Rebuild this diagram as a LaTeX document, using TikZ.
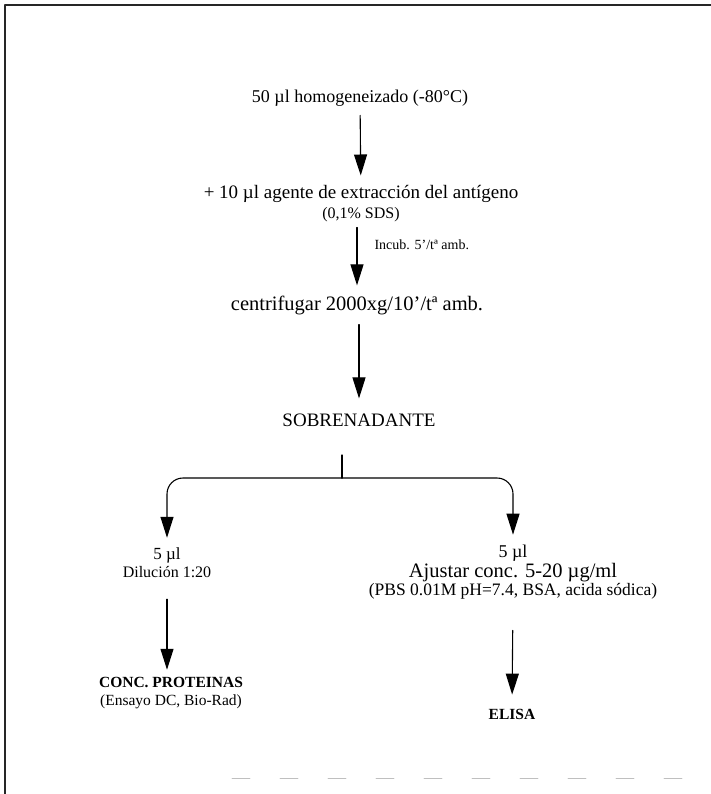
\documentclass[tikz,border=0pt]{standalone}
\usepackage{fontspec}
\setmainfont{Liberation Serif}
\usetikzlibrary{arrows.meta}
\begin{document}
\begin{tikzpicture}
% Flow chart: extraction of the antigen and split of the supernatant
\def\unitsz{1pt}
\providecommand{\flowLineColor}{black}
\providecommand{\flowFrameColor}{black!85}
\providecommand{\flowLineWidth}{1.1pt}
\providecommand{\flowFrameWidth}{1.6pt}
\newcommand{\tam}[1]{\fontsize{#1}{#1}\selectfont}
\tikzset{
  paso/.style={inner sep=0pt, align=center, font=\tam{19}},
  nota/.style={inner sep=0pt, align=center, font=\tam{14}},
  linea/.style={draw=\flowLineColor, line width=\flowLineWidth},
  flecha/.style={linea, -{Triangle[length=21pt,width=13pt]}}
}
\begin{scope}[x=\unitsz, y=-\unitsz, line cap=round, line join=round]
  \useasboundingbox (0,0) rectangle (711,794);
  % Page frame
  \draw[draw=\flowFrameColor, line width=\flowFrameWidth] (5,794) -- (5,5) -- (711,5);
  \draw[black!25, line width=0.8pt, dash pattern=on 18pt off 30pt] (232,778) -- (711,778);
  % Steps
  \node[paso, font=\tam{18}] (homog) at (360,98) {50 µl homogeneizado (-80°C)};
  \node[paso] (extrac) at (361,204) {+ 10 µl agente de extracción del antígeno\\[1pt]
    {\tam{16}(0,1\% SDS)}};
  \node[paso, font=\tam{20.5}] (centri) at (357,305) {centrifugar 2000xg/10'/tª amb.};
  \node[paso] (sobre) at (359,420) {SOBRENADANTE};
  \coordinate (stem) at (342,455);
  \coordinate (split) at (342,478);
  % Branches
  \node[paso, font=\tam{17}] (cincoA) at (167,563) {5 µl\\[1pt]{\tam{16}Dilución 1:20}};
  \node[paso, font=\tam{18}] (cincoB) at (513,572) {5 µl\\[1pt]{\tam{20.5}Ajustar conc. 5-20 µg/ml}\\[0pt]
    {\tam{17.5}(PBS 0.01M pH=7.4, BSA, acida sódica)}};
  \node[paso, font=\tam{15.5}] (prot) at (171,693) {\textbf{CONC. PROTEINAS}\\[3pt](Ensayo DC, Bio-Rad)};
  \node[paso, font=\tam{15.5}] (elisa) at (512,714) {\textbf{ELISA}};
  % Connectors
  \draw[flecha, shorten <=9pt, shorten >=10pt] (homog) -- (extrac);
  \draw[flecha, shorten <=5pt, shorten >=10pt] (extrac.south -| centri) -- (centri)
    node[nota, anchor=west, pos=0.3, xshift=17pt] {Incub. 5'/tª amb.};
  \draw[flecha, shorten <=10pt, shorten >=15pt] (centri.south -| sobre) -- (sobre);
  \draw[linea] (stem) -- (split);
  \draw[flecha, rounded corners=16pt, shorten >=10pt] (split) -| (cincoA.north);
  \draw[flecha, rounded corners=16pt, shorten >=10pt] (split) -| (cincoB.north);
  \draw[flecha, shorten <=21pt, shorten >=7pt] (cincoA.south) -- (prot.north -| cincoA);
  \draw[flecha, shorten <=31pt, shorten >=14pt] (cincoB.south) -- (elisa.north);
\end{scope}
\end{tikzpicture}
\end{document}
